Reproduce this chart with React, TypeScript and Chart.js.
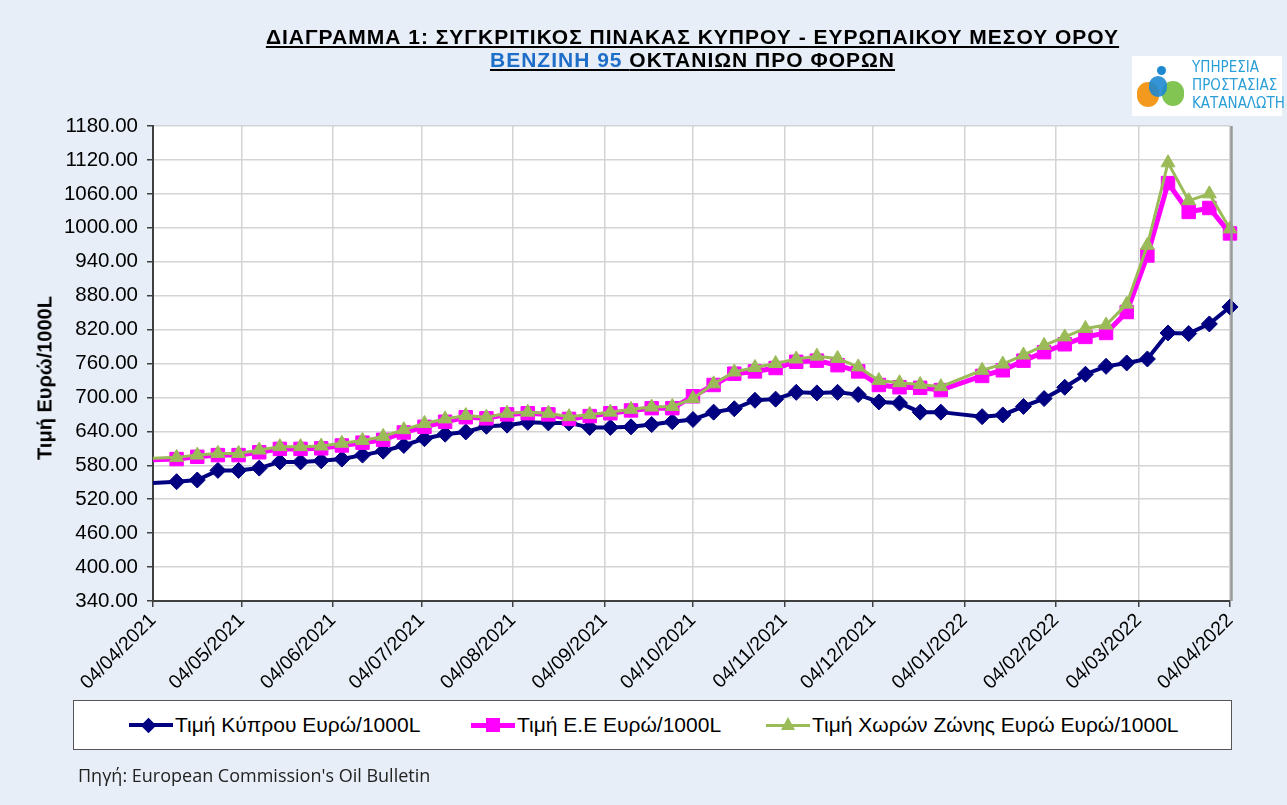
import React, { useEffect, useRef } from "react";
import { Chart, registerables } from "chart.js";

Chart.register(...registerables);

// Weekly Oil Bulletin dates (Mondays)
const dates = [
  "2021-03-29", "2021-04-12", "2021-04-19", "2021-04-26",
  "2021-05-03", "2021-05-10", "2021-05-17", "2021-05-24", "2021-05-31",
  "2021-06-07", "2021-06-14", "2021-06-21", "2021-06-28",
  "2021-07-05", "2021-07-12", "2021-07-19", "2021-07-26",
  "2021-08-02", "2021-08-09", "2021-08-16", "2021-08-23", "2021-08-30",
  "2021-09-06", "2021-09-13", "2021-09-20", "2021-09-27",
  "2021-10-04", "2021-10-11", "2021-10-18", "2021-10-25",
  "2021-11-01", "2021-11-08", "2021-11-15", "2021-11-22", "2021-11-29",
  "2021-12-06", "2021-12-13", "2021-12-20", "2021-12-27",
  "2022-01-10", "2022-01-17", "2022-01-24", "2022-01-31",
  "2022-02-07", "2022-02-14", "2022-02-21", "2022-02-28",
  "2022-03-07", "2022-03-14", "2022-03-21", "2022-03-28",
  "2022-04-04",
];

const cyprusPrice = [
  547, 551, 554, 571,
  571, 575, 586, 586, 588,
  591, 598, 605, 615,
  627, 635, 639, 649,
  651, 656, 655, 655, 647,
  647, 648, 652, 657,
  661, 674, 680, 695,
  697, 709, 708, 709, 705,
  692, 690, 674, 674,
  666, 669, 684, 698,
  718, 741, 755, 761,
  768, 814, 813, 830,
  860,
];

const euPrice = [
  589, 591, 595, 598,
  598, 603, 609, 609, 610,
  615, 620, 625, 638,
  648, 657, 665, 663,
  670, 672, 670, 662, 667,
  672, 677, 681, 681,
  702, 722, 742, 746,
  752, 763, 765, 757, 746,
  722, 718, 717, 713,
  738, 748, 765, 780,
  794, 807, 814, 851,
  951, 1079, 1028, 1035,
  990,
];

const euroAreaPrice = [
  591, 594, 598, 601,
  601, 607, 613, 613, 614,
  619, 624, 631, 643,
  654, 662, 668, 665,
  672, 674, 672, 666, 670,
  674, 679, 683, 684,
  698, 724, 745, 753,
  760, 768, 773, 769, 754,
  730, 726, 723, 719,
  748, 759, 775, 792,
  807, 822, 828, 865,
  969, 1115, 1048, 1060,
  998,
];

const tickLabels = [
  "04/04/2021", "04/05/2021", "04/06/2021", "04/07/2021", "04/08/2021",
  "04/09/2021", "04/10/2021", "04/11/2021", "04/12/2021", "04/01/2022",
  "04/02/2022", "04/03/2022", "04/04/2022",
];

const Y_MIN = 340;
const Y_MAX = 1180;
const Y_STEP = 60;

const seriesNames = [
  "Τιμή Κύπρου Ευρώ/1000L",
  "Τιμή Ε.Ε Ευρώ/1000L",
  "Τιμή Χωρών Ζώνης Ευρώ Ευρώ/1000L",
];

const DAY = 86400000;
const origin = Date.UTC(2021, 3, 4);
const isoToDay = (s: string) => {
  const [y, m, d] = s.split("-").map(Number);
  return Math.round((Date.UTC(y, m - 1, d) - origin) / DAY);
};
const labelToDay = (s: string) => {
  const [d, m, y] = s.split("/").map(Number);
  return Math.round((Date.UTC(y, m - 1, d) - origin) / DAY);
};

const xDays = dates.map(isoToDay);
const tickDays = tickLabels.map(labelToDay);

const FONT = 'Arial, "Liberation Sans", sans-serif';

const plotBg = {
  id: "plotBg",
  beforeDraw(chart: any) {
    const { ctx, chartArea } = chart;
    ctx.save();
    ctx.fillStyle = "#ffffff";
    ctx.fillRect(chartArea.left, chartArea.top, chartArea.right - chartArea.left, chartArea.bottom - chartArea.top);
    ctx.restore();
  },
  afterDraw(chart: any) {
    const { ctx, chartArea } = chart;
    ctx.save();
    ctx.strokeStyle = "#9a9a9a";
    ctx.lineWidth = 2.5;
    ctx.beginPath();
    ctx.moveTo(chartArea.right + 1.5, chartArea.top);
    ctx.lineTo(chartArea.right + 1.5, chartArea.bottom);
    ctx.stroke();
    ctx.restore();
  },
};

function LegendMarker({ kind, color }: { kind: string; color: string }) {
  if (kind === "diamond")
    return (
      <div style={{ position: "absolute", left: 14, top: -5.5, width: 11, height: 11, background: color, transform: "rotate(45deg)" }} />
    );
  if (kind === "square")
    return <div style={{ position: "absolute", left: 15, top: -7, width: 14, height: 14, background: color }} />;
  return (
    <div
      style={{
        position: "absolute",
        left: 15,
        top: -8,
        width: 0,
        height: 0,
        borderLeft: "7px solid transparent",
        borderRight: "7px solid transparent",
        borderBottom: `13px solid ${color}`,
      }}
    />
  );
}

export default function App() {
  const ref = useRef<HTMLCanvasElement | null>(null);

  useEffect(() => {
    if (!ref.current) return;
    const mk = (vals: number[]) => vals.map((v, i) => ({ x: xDays[i], y: v }));
    const clip = { left: 0, top: 12, right: 14, bottom: 0 } as any;
    const chart = new Chart(ref.current, {
      type: "line",
      data: {
        datasets: [
          {
            label: seriesNames[0],
            data: mk(cyprusPrice),
            borderColor: "#000080",
            backgroundColor: "#000080",
            borderWidth: 4,
            pointStyle: "rectRot",
            pointRadius: 8,
            pointBorderWidth: 1,
            tension: 0,
            order: 2,
            clip,
          },
          {
            label: seriesNames[1],
            data: mk(euPrice),
            borderColor: "#FF00FF",
            backgroundColor: "#FF00FF",
            borderWidth: 5,
            pointStyle: "rect",
            pointRadius: 9.5,
            pointBorderWidth: 1,
            tension: 0,
            order: 1,
            clip,
          },
          {
            label: seriesNames[2],
            data: mk(euroAreaPrice),
            borderColor: "#9BBB59",
            backgroundColor: "#9BBB59",
            borderWidth: 3,
            pointStyle: "triangle",
            pointRadius: 8,
            pointBorderWidth: 1,
            tension: 0,
            order: 0,
            clip,
          },
        ],
      },
      options: {
        responsive: false,
        animation: false,
        events: [],
        layout: { padding: { left: 0, top: 126, right: 57, bottom: 104 } },
        plugins: { legend: { display: false }, tooltip: { enabled: false }, title: { display: false } },
        scales: {
          x: {
            type: "linear",
            min: tickDays[0],
            max: tickDays[tickDays.length - 1],
            afterBuildTicks: (s: any) => {
              s.ticks = tickDays.map((v) => ({ value: v }));
            },
            afterFit: (s: any) => {
              s.height = 100;
            },
            ticks: {
              autoSkip: false,
              minRotation: 45,
              maxRotation: 45,
              padding: 2,
              color: "#000",
              font: { family: FONT, size: 19.5 },
              callback: (v: any) => {
                const i = tickDays.indexOf(Number(v));
                return i >= 0 ? tickLabels[i] : "";
              },
            },
            grid: { color: "#d4d4d4", lineWidth: 1.5, tickColor: "#404040", tickLength: 6, drawTicks: true },
            border: { color: "#404040", width: 2 },
          },
          y: {
            min: Y_MIN,
            max: Y_MAX,
            afterBuildTicks: (s: any) => {
              const t = [];
              for (let v = Y_MIN; v <= Y_MAX; v += Y_STEP) t.push({ value: v });
              s.ticks = t;
            },
            afterFit: (s: any) => {
              s.width = 153;
            },
            ticks: {
              padding: 9,
              color: "#000",
              font: { family: FONT, size: 20.5 },
              callback: (v: any) => Number(v).toFixed(2),
            },
            grid: { color: "#d4d4d4", lineWidth: 1.5, tickColor: "#404040", tickLength: 6, drawTicks: true },
            border: { color: "#404040", width: 2 },
          },
        },
      },
      plugins: [plotBg],
    });
    return () => chart.destroy();
  }, []);

  const colors = ["#000080", "#FF00FF", "#9BBB59"];
  const kinds = ["diamond", "square", "triangle"];
  const lineH = [4, 5, 3];
  const itemLeft = [128, 470, 765];

  return (
    <div style={{ position: "fixed", left: 0, top: 0, width: 1287, height: 805, background: "#E8EEF7", overflow: "hidden", fontFamily: FONT }}>
      <canvas ref={ref} width={1287} height={805} style={{ position: "absolute", left: 0, top: 0, width: 1287, height: 805 }} />

      {/* Title */}
      <div style={{ position: "absolute", left: 0, width: 1385, top: 25, textAlign: "center", fontWeight: "bold", fontSize: 21, letterSpacing: 1, lineHeight: "23px", color: "#000" }}>
        <div style={{ textDecoration: "underline" }}>ΔΙΑΓΡΑΜΜΑ 1: ΣΥΓΚΡΙΤΙΚΟΣ ΠΙΝΑΚΑΣ ΚΥΠΡΟΥ - ΕΥΡΩΠΑΙΚΟΥ ΜΕΣΟΥ ΟΡΟΥ</div>
        <div style={{ textDecoration: "underline" }}>
          <span style={{ color: "#1F6FC8" }}>ΒΕΝΖΙΝΗ 95 </span>ΟΚΤΑΝΙΩΝ ΠΡΟ ΦΟΡΩΝ
        </div>
      </div>

      {/* Logo */}
      <div style={{ position: "absolute", left: 1132, top: 56, width: 150, height: 60, background: "#fff" }}>
        <div style={{ position: "absolute", left: 25, top: 10, width: 9, height: 9, borderRadius: 5, background: "#1E88D0" }} />
        <div style={{ position: "absolute", left: 5, top: 26, width: 22, height: 25, borderRadius: 12, background: "#F39A1E" }} />
        <div style={{ position: "absolute", left: 30, top: 25, width: 22, height: 25, borderRadius: 12, background: "#7CC24A", opacity: 0.95 }} />
        <div style={{ position: "absolute", left: 17, top: 20, width: 18, height: 21, borderRadius: 10, background: "#1E88D0", opacity: 0.9 }} />
        <div style={{ position: "absolute", left: 60, top: 2, fontFamily: '"Liberation Sans Narrow", "Arial Narrow", "DejaVu Sans Condensed", sans-serif', fontSize: 15, lineHeight: "18px", color: "#2A9FD8", whiteSpace: "nowrap" }}>
          <div>ΥΠΗΡΕΣΙΑ</div>
          <div>ΠΡΟΣΤΑΣΙΑΣ</div>
          <div>ΚΑΤΑΝΑΛΩΤΗ</div>
        </div>
      </div>

      {/* Y axis title */}
      <div style={{ position: "absolute", left: 45, top: 378, transform: "translate(-50%, -50%) rotate(-90deg)", fontWeight: "bold", fontSize: 20, whiteSpace: "nowrap", color: "#000" }}>
        Τιμή Ευρώ/1000L
      </div>

      {/* Legend */}
      <div style={{ position: "absolute", left: 73, top: 700, width: 1157, height: 48, background: "#fff", border: "1.5px solid #555" }}>
        {seriesNames.map((n, i) => (
          <div key={n} style={{ position: "absolute", left: itemLeft[i] - 73, top: 24 }}>
            <div style={{ position: "absolute", left: 0, top: -lineH[i] / 2, width: 44, height: lineH[i], background: colors[i] }} />
            <LegendMarker kind={kinds[i]} color={colors[i]} />
            <div style={{ position: "absolute", left: 46, top: -12, fontSize: 21, lineHeight: "24px", whiteSpace: "nowrap", color: "#000" }}>{n}</div>
          </div>
        ))}
      </div>

      {/* Source */}
      <div style={{ position: "absolute", left: 78, top: 763, fontFamily: '"Open Sans", sans-serif', fontSize: 18, color: "#222", whiteSpace: "nowrap" }}>
        Πηγή: European Commission's Oil Bulletin
      </div>
    </div>
  );
}
